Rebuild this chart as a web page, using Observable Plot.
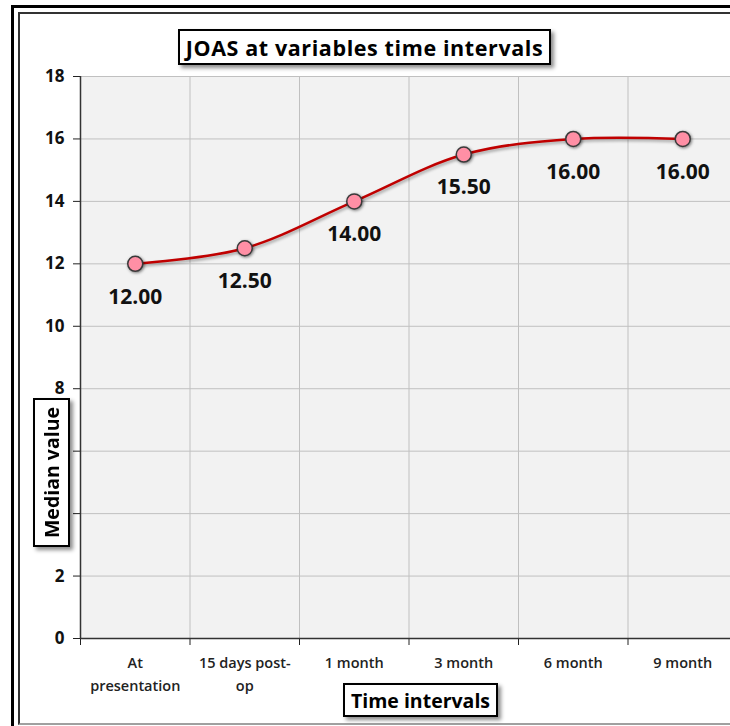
<!DOCTYPE html>
<html>
<head>
<meta charset="utf-8">
<script src="https://cdn.jsdelivr.net/npm/d3@7"></script>
<script src="https://cdn.jsdelivr.net/npm/@observablehq/plot@0.6"></script>
<style>
  html, body { margin: 0; padding: 0; background: #ffffff; }
  #wrap { position: relative; width: 730px; height: 726px; overflow: hidden; background: #fff; font-family: "Open Sans", Lato, sans-serif; }
  .outer { position: absolute; left: 11px; top: 5px; width: 800px; height: 800px; border-left: 3px solid #000; border-top: 3px solid #000; }
  .inner { position: absolute; left: 18px; top: 12px; width: 800px; height: 709px; border-left: 2px solid #333; border-top: 2px solid #333; border-bottom: 2px solid #a0a0a0; }
  #chart { position: absolute; left: 0; top: 0; }
  .box { position: absolute; background: #fff; border: 2px solid #000; box-shadow: 3px 3px 4px rgba(0,0,0,0.45); color: #000; font-weight: 700; display: flex; align-items: center; justify-content: center; white-space: nowrap; box-sizing: border-box; }
  #title { left: 178px; top: 29px; width: 373px; height: 36px; font-size: 21.5px; letter-spacing: 0.6px; }
  #xlab { left: 343px; top: 683px; width: 155px; height: 34px; font-size: 19.5px; letter-spacing: 0px; }
  #ylab { left: 33px; top: 398px; width: 37px; height: 149px; font-size: 19.5px; letter-spacing: 0px; }
  #ylab span { writing-mode: vertical-rl; transform: rotate(180deg); }
  #chart svg [aria-label^="y-axis"] text { font-size: 17px; font-weight: 700; fill: #111; }
  #chart svg [aria-label="dot"] circle { filter: drop-shadow(1.5px 1.5px 1.5px rgba(0,0,0,0.5)); }
  #chart svg [aria-label="line"] path { filter: drop-shadow(1px 2px 1.5px rgba(0,0,0,0.35)); }
</style>
</head>
<body>
<div id="wrap">
  <div class="outer"></div>
  <div class="inner"></div>
  <div id="chart"></div>
  <div class="box" id="title">JOAS at variables time intervals</div>
  <div class="box" id="xlab">Time intervals</div>
  <div class="box" id="ylab"><span>Median value</span></div>
</div>
<script>
const categories = ["At\npresentation", "15 days post-\nop", "1 month", "3 month", "6 month", "9 month"];
const medians = [12.00, 12.50, 14.00, 15.50, 16.00, 16.00];
const yTicks = [0, 2, 4, 6, 8, 10, 12, 14, 16, 18];

const rows = categories.map((cat, i) => ({ idx: i, cat, value: medians[i] }));
const boundaries = categories.map((c, i) => i).concat([categories.length]);
const innerBoundaries = boundaries.slice(1, -1);
const fmt = d3.format(".2f");

const chart = Plot.plot({
  width: 730,
  height: 726,
  marginLeft: 80,
  marginTop: 76,
  marginBottom: 88,
  marginRight: 0,
  style: { background: "transparent", fontFamily: "'Open Sans', Lato, sans-serif", fontSize: "17px", fontWeight: "bold", color: "#222" },
  x: { type: "linear", domain: [0, categories.length], range: [80, 737], ticks: boundaries, tickSize: 7, tickFormat: () => "", label: null },
  y: { domain: [0, 18], range: [638, 76], ticks: yTicks, tickSize: 7, tickPadding: 9, label: null },
  marks: [
    Plot.frame({ fill: "#f2f2f2", stroke: null }),
    Plot.ruleY(yTicks, { stroke: "#c0c0c0", strokeWidth: 1 }),
    Plot.ruleX(innerBoundaries, { stroke: "#c0c0c0", strokeWidth: 1 }),
    Plot.ruleX([0], { stroke: "#333", strokeWidth: 1.5 }),
    Plot.ruleY([0], { stroke: "#333", strokeWidth: 1.5 }),
    Plot.text(rows, { x: d => d.idx + 0.5, y: () => 0, text: "cat", lineAnchor: "top", dy: 13, fontSize: 14.5, fontWeight: 600, lineHeight: 1.6, fill: "#222" }),
    Plot.line(rows, { x: d => d.idx + 0.5, y: "value", curve: "catmull-rom", stroke: "#c00000", strokeWidth: 2.5 }),
    Plot.dot(rows, { x: d => d.idx + 0.5, y: "value", r: 7.5, fill: "#ff8fa5", stroke: "#3a3a3a", strokeWidth: 1.5 }),
    Plot.text(rows, { x: d => d.idx + 0.5, y: "value", text: d => fmt(d.value), dy: 33, fontSize: 21, fontWeight: "bold", fill: "#111" })
  ]
});
document.getElementById("chart").appendChild(chart);
</script>
</body>
</html>
